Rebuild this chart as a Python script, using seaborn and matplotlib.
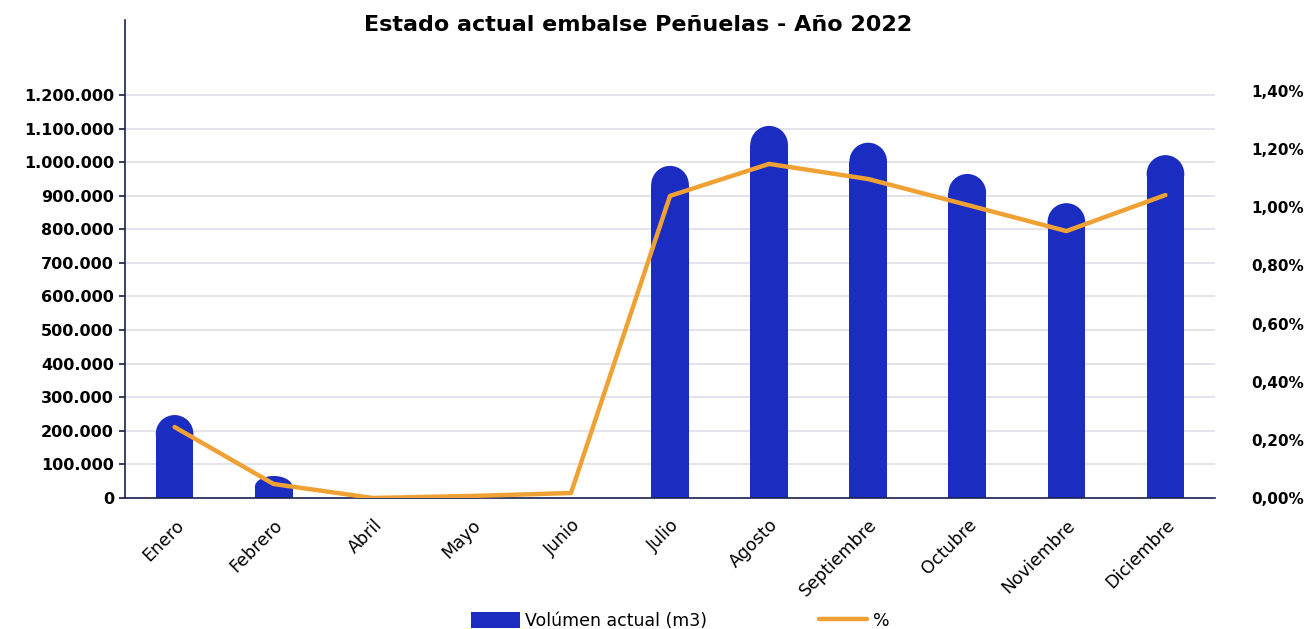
import matplotlib
matplotlib.use("Agg")
import matplotlib.pyplot as plt
from matplotlib.patches import Ellipse, Patch
from matplotlib.lines import Line2D
from matplotlib.ticker import FuncFormatter, FixedLocator
import pandas as pd
import seaborn as sns

# ── Data ──────────────────────────────────────────────────────────────────────
meses = ["Enero", "Febrero", "Abril", "Mayo", "Junio", "Julio", "Agosto",
         "Septiembre", "Octubre", "Noviembre", "Diciembre"]
volumen = [247000, 65500, 0, 0, 0, 989000, 1108000, 1058000, 965000, 878000, 1021000]
porcentaje = [0.244, 0.048, 0.0, 0.007, 0.017, 1.039, 1.149, 1.097, 1.008, 0.918, 1.042]

vol_ticks = list(range(0, 1200001, 100000))
pct_ticks = [0.0, 0.2, 0.4, 0.6, 0.8, 1.0, 1.2, 1.4]

TITLE = "Estado actual embalse Peñuelas - Año 2022"
BAR_COLOR = "#1b2cc1"
LINE_COLOR = "#f0a133"
SPINE_COLOR = "#1f2350"

df = pd.DataFrame({"mes": meses, "volumen": volumen, "pct": porcentaje})

sns.set_theme(style="white")
plt.rcParams["font.family"] = ["DejaVu Sans"]

fig = plt.figure(figsize=(13.08, 6.29), dpi=100)
ax = fig.add_axes([0.0956, 0.2083, 0.8333, 0.7599])
ax2 = ax.twinx()

VOL_TOP = 1423400
PCT_TOP = 1.644
BAR_W = 0.38

sns.barplot(data=df, x="mes", y="volumen", color=BAR_COLOR, width=BAR_W,
            saturation=1, ax=ax, zorder=2)
ax.set_xlim(-0.5, len(meses) - 0.5)
ax.set_ylim(0, VOL_TOP)

# rounded caps on the bars
ax_h_px = 0.7599 * 629
ax_w_px = 0.8333 * 1308
y_per_px = VOL_TOP / ax_h_px
x_per_px = len(meses) / ax_w_px
for p in list(ax.patches):
    h = p.get_height()
    if h <= 0:
        continue
    w = p.get_width()
    r_y = (w / x_per_px) / 2 * y_per_px
    ry = min(r_y, h / 2)
    p.set_height(h - ry)
    p.set_linewidth(0)
    cap = Ellipse((p.get_x() + w / 2, h - ry), w, 2 * ry, facecolor=BAR_COLOR,
                  linewidth=0, zorder=2)
    ax.add_patch(cap)

sns.lineplot(data=df, x="mes", y="pct", sort=False, color=LINE_COLOR,
             linewidth=3.2, ax=ax2, legend=False)
ax2.set_ylim(0, PCT_TOP)
ax2.set_xlim(-0.5, len(meses) - 0.5)

# ── Axes styling ──────────────────────────────────────────────────────────────
ax.yaxis.set_major_locator(FixedLocator(vol_ticks))
ax.yaxis.set_major_formatter(FuncFormatter(lambda v, _: f"{int(v):,}".replace(",", ".")))
ax2.yaxis.set_major_locator(FixedLocator(pct_ticks))
ax2.yaxis.set_major_formatter(FuncFormatter(lambda v, _: f"{v:.2f}%".replace(".", ",")))

ax.grid(axis="y", color="#dedee8", linewidth=1.2, zorder=0)
ax.set_axisbelow(True)
ax2.grid(False)

for s in ["top", "right"]:
    ax.spines[s].set_visible(False)
for s in ["top", "right", "left", "bottom"]:
    ax2.spines[s].set_visible(False)
ax.spines["left"].set_color(SPINE_COLOR)
ax.spines["bottom"].set_color(SPINE_COLOR)
ax.spines["left"].set_linewidth(1.2)
ax.spines["bottom"].set_linewidth(1.2)

ax.tick_params(axis="y", which="major", left=True, length=4, color=SPINE_COLOR,
               labelsize=11.5, pad=4)
ax.tick_params(axis="x", bottom=False, labelsize=12.5, pad=7)
ax2.tick_params(axis="y", right=False, labelsize=11, pad=20)
for lab in ax.get_yticklabels() + ax2.get_yticklabels():
    lab.set_fontweight("bold")
    lab.set_color("black")
for lab in ax.get_xticklabels():
    lab.set_rotation(45)
    lab.set_ha("right")
    lab.set_rotation_mode("anchor")
    lab.set_color("black")

ax.set_xlabel("")
ax.set_ylabel("")
ax2.set_ylabel("")

fig.suptitle(TITLE, x=0.488, y=0.976, fontsize=16, fontweight="bold", va="top",
             color="black")

# ── Legend ────────────────────────────────────────────────────────────────────
handles = [Patch(facecolor=BAR_COLOR, edgecolor="none", label="Volúmen actual (m3)"),
           Line2D([0], [0], color=LINE_COLOR, linewidth=3.2, label="%")]
leg = fig.legend(handles=handles, loc="lower center", bbox_to_anchor=(0.52, -0.026),
                 ncol=2, frameon=False, fontsize=12.5, handlelength=2.8,
                 handleheight=1.0, handletextpad=0.3, columnspacing=6.45)
for t in leg.get_texts():
    t.set_color("black")

fig.savefig("out.png", dpi=100)
